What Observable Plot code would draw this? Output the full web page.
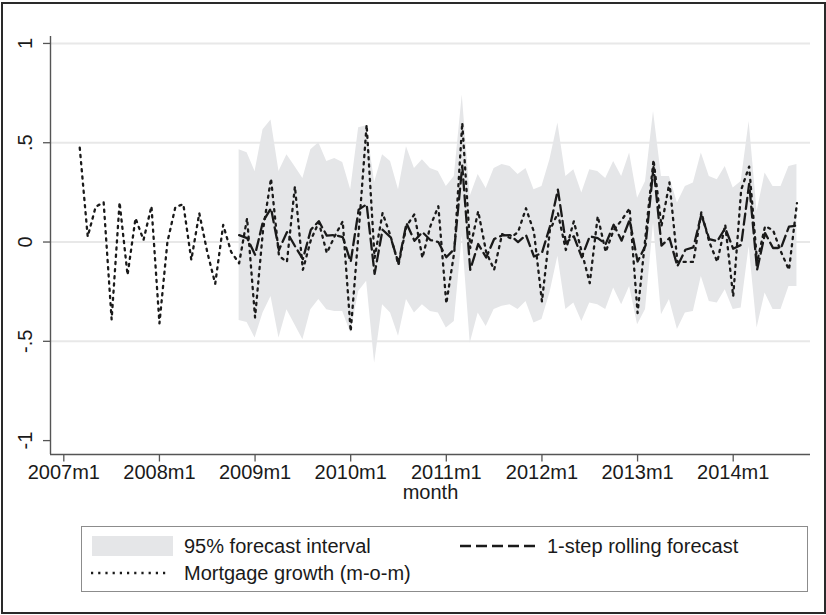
<!DOCTYPE html>
<html>
<head>
<meta charset="utf-8">
<script src="https://cdn.jsdelivr.net/npm/d3@7"></script>
<script src="https://cdn.jsdelivr.net/npm/@observablehq/plot@0.6"></script>
<style>
  html, body { margin: 0; padding: 0; background: #fff; }
  #wrap { position: relative; width: 826px; height: 615px; overflow: hidden;
          font-family: "Liberation Sans", Arial, sans-serif; color: #1a1a1a; }
  #chart { position: absolute; left: 0; top: 0; }
  #border { position: absolute; left: 1px; top: 2px; width: 825px; height: 612px;
            box-sizing: border-box; border: 2px solid #2a2a2a; }
  #legend { position: absolute; left: 81px; top: 526px; width: 727px; height: 66px;
            box-sizing: border-box; border: 1px solid #8c8c8c; }
  .lt { position: absolute; font-size: 20px; line-height: 24px; white-space: nowrap; color: #1a1a1a; }
  .key { position: absolute; }
</style>
</head>
<body>
<div id="wrap">
  <div id="chart"></div>
  <div id="legend"></div>
  <div id="border"></div>
</div>
<script>
// ---- data ----
const tickLabels = ["2007m1", "2008m1", "2009m1", "2010m1", "2011m1", "2012m1", "2013m1", "2014m1"];
const yTickValues = [-1, -0.5, 0, 0.5, 1];
const yTickLabels = ["-1", "-.5", "0", ".5", "1"];
const gridValues = [-0.5, 0, 0.5, 1];

const mortgageStart = "2007m3";
const mortgageGrowth = [
  0.475, 0.027, 0.178, 0.2, -0.39, 0.2, -0.166, 0.12, 0.01, 0.18, -0.41, 0.0, 0.176, 0.19, -0.09, 0.145, -0.05, -0.21, 0.086, -0.05, -0.107,
  0.12, -0.38, 0.06, 0.32, -0.07, -0.1, 0.28, -0.14, 0.01, 0.1, -0.055, 0.03, 0.104, -0.45, 0.05, 0.59, -0.08, 0.146, 0.03, -0.115,
  0.08, 0.14, -0.08, 0.08, 0.18, -0.31, -0.05, 0.6, -0.03, 0.155, -0.05, -0.14, 0.04, 0.02, 0.05, 0.17, 0.05, -0.3, 0.06, 0.146,
  -0.04, 0.104, -0.05, -0.207, 0.13, -0.05, 0.06, 0.11, 0.17, -0.358, 0.03, 0.414, 0.08, 0.3, -0.1, -0.1, -0.1, 0.15, 0.0, -0.1,
  0.087, -0.274, 0.263, 0.38, -0.1, 0.08, 0.06, -0.05, -0.14, 0.196
];

const forecastStart = "2008m11";
const forecast = [
  0.035, 0.02, -0.064, 0.104, 0.17, -0.04, 0.05, -0.02, -0.086, 0.062, 0.105, 0.032, 0.035, 0.025, -0.1, 0.163, 0.19, -0.16, 0.062, 0.024,
  -0.106, 0.095, 0.006, 0.05, 0.01, 0.0, -0.077, -0.035, 0.385, -0.14, -0.01, -0.078, 0.015, 0.033, 0.035, 0.0, 0.035, -0.073, -0.055, 0.078,
  0.264, -0.005, 0.029, -0.077, 0.029, 0.02, -0.01, 0.087, 0.007, 0.112, -0.098, -0.018, 0.377, -0.018, 0.02, -0.122, -0.039, -0.027, 0.138, 0.015,
  0.004, 0.07, -0.034, -0.014, 0.293, -0.14, 0.045, -0.03, -0.03, 0.078, 0.083
];
const bandUpper = [
  0.465, 0.45, 0.355, 0.565, 0.615, 0.355, 0.44, 0.38, 0.32, 0.465, 0.5, 0.405, 0.42, 0.4, 0.263, 0.575, 0.585, 0.3, 0.44, 0.405,
  0.263, 0.48, 0.37, 0.414, 0.37, 0.355, 0.28, 0.33, 0.74, 0.23, 0.34, 0.27, 0.37, 0.39, 0.38, 0.34, 0.37, 0.263, 0.28, 0.414,
  0.6, 0.33, 0.364, 0.247, 0.364, 0.355, 0.32, 0.405, 0.33, 0.448, 0.22, 0.305, 0.657, 0.33, 0.33, 0.196, 0.28, 0.297, 0.448, 0.33,
  0.314, 0.38, 0.272, 0.305, 0.607, 0.154, 0.347, 0.28, 0.28, 0.38, 0.39
];
const bandLower = [
  -0.395, -0.405, -0.483, -0.357, -0.274, -0.483, -0.341, -0.416, -0.492, -0.341, -0.29, -0.341, -0.35, -0.35, -0.458, -0.249, -0.198, -0.61, -0.316, -0.358,
  -0.475, -0.29, -0.358, -0.316, -0.35, -0.358, -0.433, -0.4, 0.03, -0.51, -0.358, -0.425, -0.34, -0.324, -0.316, -0.34, -0.3, -0.408, -0.39, -0.257,
  -0.072, -0.34, -0.307, -0.4, -0.307, -0.316, -0.34, -0.232, -0.316, -0.224, -0.416, -0.34, 0.096, -0.366, -0.29, -0.44, -0.358, -0.35, -0.173, -0.3,
  -0.307, -0.24, -0.34, -0.332, -0.022, -0.433, -0.257, -0.34, -0.34, -0.224, -0.224
];

const legendLabels = ["95% forecast interval", "1-step rolling forecast", "Mortgage growth (m-o-m)"];
const xTitle = "month";

// ---- build ----
const monthIndex = s => { const [y, m] = s.split("m").map(Number); return (y - 2007) * 12 + (m - 1); };
const mStart = monthIndex(mortgageStart);
const mortData = mortgageGrowth.map((v, i) => ({m: mStart + i, v}));
const fStart = monthIndex(forecastStart);
const fcData = forecast.map((v, i) => ({m: fStart + i, v, lo: bandLower[i], hi: bandUpper[i]}));
const xTicks = tickLabels.map(monthIndex);
const xDomain = [-1.67, 93.7];
const yDomain = [-1.07, 1.035];
const ink = "#1a1a1a", axisInk = "#555";
const dotDash = "2.2,5", longDash = "11,5";

const chart = Plot.plot({
  width: 826, height: 515,
  marginLeft: 50, marginRight: 16, marginTop: 36, marginBottom: 61,
  x: {domain: xDomain, axis: null},
  y: {domain: yDomain, axis: null},
  style: {fontFamily: '"Liberation Sans", Arial, sans-serif', fontSize: "20px", color: ink, background: "transparent", overflow: "visible"},
  marks: [
    Plot.ruleY(gridValues, {stroke: "#e8e8e8", strokeWidth: 2}),
    Plot.areaY(fcData, {x: "m", y1: "lo", y2: "hi", fill: "#e5e6e8"}),
    Plot.line(fcData, {x: "m", y: "v", stroke: ink, strokeWidth: 2.3, strokeDasharray: longDash}),
    Plot.line(mortData, {x: "m", y: "v", stroke: ink, strokeWidth: 2.3, strokeDasharray: dotDash}),
    Plot.ruleX([xDomain[0]], {stroke: axisInk, strokeWidth: 1.4}),
    Plot.ruleY([yDomain[0]], {stroke: axisInk, strokeWidth: 1.4}),
    Plot.axisX({ticks: xTicks, tickSize: 7.5, tickPadding: 3, stroke: axisInk, strokeWidth: 1.3,
                tickFormat: d => tickLabels[xTicks.indexOf(d)], fill: ink, fontSize: 20, label: null}),
    Plot.axisY({ticks: yTickValues, tickSize: 7, stroke: axisInk, strokeWidth: 1.3, tickFormat: () => "", label: null}),
    Plot.text(yTickValues, {y: d => d, text: (d, i) => yTickLabels[i], frameAnchor: "left", dx: -25,
                            rotate: -90, textAnchor: "middle", lineAnchor: "middle", fontSize: 20, fill: ink}),
    Plot.text([xTitle], {frameAnchor: "bottom", dy: 30, lineAnchor: "top", fontSize: 20, fill: ink})
  ]
});
document.getElementById("chart").appendChild(chart);

// ---- legend ----
const wrap = document.getElementById("wrap");
function addText(txt, left, centerY) {
  const d = document.createElement("div");
  d.className = "lt"; d.textContent = txt;
  d.style.left = left + "px"; d.style.top = (centerY - 12) + "px";
  wrap.appendChild(d);
}
function addLineKey(x1, x2, y, dash) {
  const ns = "http://www.w3.org/2000/svg";
  const svg = document.createElementNS(ns, "svg");
  svg.setAttribute("class", "key");
  svg.setAttribute("width", x2 - x1 + 4); svg.setAttribute("height", 8);
  svg.style.left = (x1 - 2) + "px"; svg.style.top = (y - 4) + "px";
  const l = document.createElementNS(ns, "line");
  l.setAttribute("x1", 2); l.setAttribute("x2", x2 - x1 + 2);
  l.setAttribute("y1", 4); l.setAttribute("y2", 4);
  l.setAttribute("stroke", ink); l.setAttribute("stroke-width", 2.3);
  l.setAttribute("stroke-dasharray", dash);
  svg.appendChild(l); wrap.appendChild(svg);
}
const sw = document.createElement("div");
sw.className = "key";
Object.assign(sw.style, {left: "92px", top: "536px", width: "81px", height: "20px", background: "#e5e6e8"});
wrap.appendChild(sw);
addText(legendLabels[0], 184, 546);
addLineKey(460, 538, 546, longDash);
addText(legendLabels[1], 547, 546);
addLineKey(91, 168, 573, dotDash);
addText(legendLabels[2], 184, 573);
</script>
</body>
</html>
